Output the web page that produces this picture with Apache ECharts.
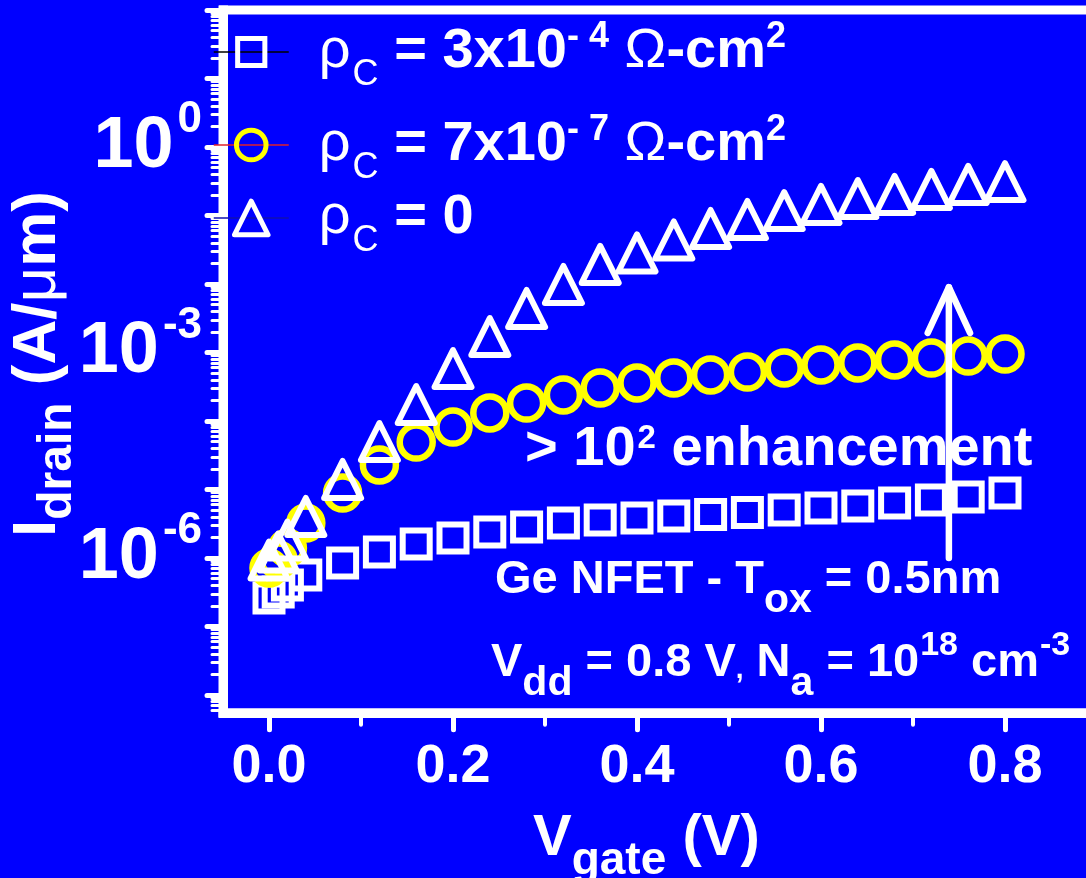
<!DOCTYPE html>
<html>
<head>
<meta charset="utf-8">
<title>Ge NFET drain current vs gate voltage</title>
<script src="https://cdn.jsdelivr.net/npm/echarts@6.0.0/dist/echarts.min.js"></script>
<style>
  html, body { margin: 0; padding: 0; background: #0000ff; }
  #chart { width: 1086px; height: 878px; }
</style>
</head>
<body>
<div id="chart"></div>
<script>
// Gate voltage sweep (V)
const vgate = [0, 0.01, 0.02, 0.04, 0.08, 0.12, 0.16, 0.20, 0.24, 0.28, 0.32, 0.36, 0.40,
               0.44, 0.48, 0.52, 0.56, 0.60, 0.64, 0.68, 0.72, 0.76, 0.80];

// Drain current (A/um), contact resistivity 3e-4 ohm-cm2
const idrainRho3e4 = [2.61e-7, 3.19e-7, 4.04e-7, 5.65e-7, 8.45e-7, 1.22e-6, 1.60e-6, 1.96e-6,
                      2.40e-6, 2.84e-6, 3.24e-6, 3.59e-6, 3.84e-6, 4.10e-6, 4.32e-6, 4.62e-6,
                      5.02e-6, 5.37e-6, 5.74e-6, 6.35e-6, 7.03e-6, 7.78e-6, 8.89e-6];
// Drain current (A/um), contact resistivity 7e-7 ohm-cm2
const idrainRho7e7 = [7.14e-7, 9.35e-7, 1.40e-6, 3.24e-6, 8.89e-6, 2.28e-5, 4.93e-5, 8.17e-5,
                      1.31e-4, 1.83e-4, 2.40e-4, 3.03e-4, 3.59e-4, 4.25e-4, 4.70e-4, 5.19e-4,
                      5.94e-4, 6.57e-4, 7.03e-4, 7.78e-4, 8.31e-4, 8.89e-4, 9.50e-4];
// Drain current (A/um), ideal contact
const idrainRho0 = [9.35e-7, 1.22e-6, 1.83e-6, 4.04e-6, 1.40e-5, 5.02e-5, 1.74e-4, 5.84e-4,
                    1.71e-3, 4.39e-3, 9.84e-3, 0.0193, 0.0284, 0.0439, 0.0646, 0.0875,
                    0.118, 0.145, 0.177, 0.203, 0.240, 0.284, 0.313];

// Axis ranges and tick positions
const xRange = [-0.05, 0.9];
const yRange = [5.5e-9, 100];
const xMajorTicks = [0, 0.2, 0.4, 0.6, 0.8];
const xMinorTicks = [0.1, 0.3, 0.5, 0.7];
const yDecadeTicks = [1e-8, 1e-7, 1e-6, 1e-5, 1e-4, 1e-3, 1e-2, 1e-1, 1, 10, 100];
const yLabelTicks = [1e-6, 1e-3, 1];
const yMinorTicks = [];
yDecadeTicks.concat([1e-9]).forEach(function (d) {
  for (let k = 2; k <= 9; k++) {
    const v = k * d;
    if (v > yRange[0] && v < yRange[1]) yMinorTicks.push(v);
  }
});

// Enhancement arrow (data coordinates)
const arrowX = 0.739;
const arrowTail = 1.0e-6;
const arrowTip = 9.0e-3;
const arrowHeadBase = 1.93e-3;
const arrowHeadHalf = 0.023;

const FONT = "'Liberation Sans', Arial, Helvetica, sans-serif";
const WHITE = '#ffffff';

function points(ys) { return vgate.map(function (x, i) { return [x, ys[i]]; }); }

const chart = echarts.init(document.getElementById('chart'), null, { renderer: 'canvas' });

function legendFor(name, top, itemHeight, lineColor, label) {
  return {
    data: [{ name: name, lineStyle: { color: lineColor, width: 1.5, opacity: 1, type: 'solid' } }],
    left: 213, top: top, padding: 0,
    itemWidth: 75, itemHeight: itemHeight,
    selectedMode: false,
    itemStyle: { borderWidth: 5 },
    formatter: function () { return label; },
    textStyle: {
      color: WHITE, fontFamily: FONT, fontSize: 56, fontWeight: 'bold',
      rich: {
        r: { fontSize: 56, fontWeight: 'normal', fontFamily: FONT, color: WHITE, padding: [0, 0, 0, 25] },
        c: { fontSize: 36, fontWeight: 'normal', fontFamily: FONT, color: WHITE, padding: [46, 0, 0, 2] },
        b: { fontSize: 56, fontWeight: 'bold', fontFamily: FONT, color: WHITE },
        p: { fontSize: 36, fontWeight: 'bold', fontFamily: FONT, color: WHITE, padding: [0, 0, 30, 0] },
        o: { fontSize: 56, fontWeight: 'normal', fontFamily: FONT, color: WHITE }
      }
    }
  };
}

function richText(id, x, y, text, rich) {
  return {
    id: id, type: 'text', z: 10, silent: true, x: x, y: y,
    style: {
      text: text, fill: WHITE, fontFamily: FONT, fontWeight: 'bold', fontSize: 50,
      align: 'left', verticalAlign: 'middle', rich: rich
    }
  };
}

function tok(size, weight, pad) {
  const s = { fontSize: size, fontWeight: weight, fontFamily: FONT, fill: WHITE };
  if (pad) s.padding = pad;
  return s;
}

const option = {
  backgroundColor: '#0000ff',
  animation: false,
  grid: {
    left: 223, top: 10, width: 874, height: 702.8,
    show: true, borderColor: WHITE, borderWidth: 9, backgroundColor: 'transparent',
    containLabel: false, outerBoundsMode: 'none'
  },
  xAxis: [
    {
      type: 'value', min: xRange[0], max: xRange[1], position: 'bottom',
      axisLine: { show: true, onZero: false, lineStyle: { color: WHITE, width: 9, cap: 'square' } },
      axisTick: { show: true, customValues: xMajorTicks, length: 17, lineStyle: { color: WHITE, width: 5, cap: 'round' } },
      axisLabel: {
        show: true, customValues: xMajorTicks, margin: 27,
        color: WHITE, fontFamily: FONT, fontSize: 54, fontWeight: 'bold',
        formatter: function (v) { return v.toFixed(1); }
      },
      splitLine: { show: false }
    },
    {
      type: 'value', min: xRange[0], max: xRange[1], position: 'bottom',
      axisLine: { show: false, onZero: false },
      axisTick: { show: true, customValues: xMinorTicks, length: 12, lineStyle: { color: WHITE, width: 4, cap: 'round' } },
      axisLabel: { show: false },
      splitLine: { show: false }
    }
  ],
  yAxis: [
    {
      type: 'log', logBase: 10, min: yRange[0], max: yRange[1], position: 'left',
      axisLine: { show: true, onZero: false, lineStyle: { color: WHITE, width: 9, cap: 'square' } },
      axisTick: { show: true, customValues: yDecadeTicks, length: 16, lineStyle: { color: WHITE, width: 5, cap: 'round' } },
      axisLabel: {
        show: true, customValues: yLabelTicks, margin: 21,
        color: WHITE, fontFamily: FONT, fontSize: 72, fontWeight: 'bold',
        formatter: function (v) {
          const e = Math.round(Math.log10(v));
          return '{b|10}{s|' + e + '}';
        },
        rich: {
          b: { fontSize: 72, fontWeight: 'bold', fontFamily: FONT, color: WHITE },
          s: { fontSize: 44, fontWeight: 'bold', fontFamily: FONT, color: WHITE, padding: [0, 0, 54, 4] }
        }
      },
      splitLine: { show: false }
    },
    {
      type: 'log', logBase: 10, min: yRange[0], max: yRange[1], position: 'left',
      axisLine: { show: false, onZero: false },
      axisTick: { show: true, customValues: yMinorTicks, length: 11, lineStyle: { color: WHITE, width: 3, cap: 'round' } },
      axisLabel: { show: false },
      splitLine: { show: false }
    }
  ],
  legend: [
    legendFor('rho3e4', 19, 34, '#000000',
      '{r|\u03c1}{c|C}{b| = 3x10}{p|- 4}{b| }{o|\u03a9}{b|-cm}{p|2}'),
    legendFor('rho7e7', 112, 37, '#e0202a',
      '{r|\u03c1}{c|C}{b| = 7x10}{p|- 7}{b| }{o|\u03a9}{b|-cm}{p|2}'),
    legendFor('rho0', 190, 42, '#1010b0',
      '{r|\u03c1}{c|C}{b| = 0}')
  ],
  series: [
    {
      name: 'rho3e4', type: 'line', data: points(idrainRho3e4),
      xAxisIndex: 0, yAxisIndex: 0, silent: true, z: 2,
      symbol: 'rect', symbolSize: 27, showAllSymbol: true,
      lineStyle: { width: 0, opacity: 0 },
      itemStyle: { color: 'rgba(0,0,0,0)', borderColor: WHITE, borderWidth: 6 },
      emphasis: { disabled: true }
    },
    {
      name: 'rho7e7', type: 'line', data: points(idrainRho7e7),
      xAxisIndex: 0, yAxisIndex: 0, silent: true, z: 3,
      symbol: 'circle', symbolSize: 33, showAllSymbol: true,
      lineStyle: { width: 0, opacity: 0 },
      itemStyle: { color: 'rgba(0,0,0,0)', borderColor: '#ffff00', borderWidth: 6.5 },
      emphasis: { disabled: true }
    },
    {
      name: 'rho0', type: 'line', data: points(idrainRho0),
      xAxisIndex: 0, yAxisIndex: 0, silent: true, z: 4,
      symbol: 'triangle', symbolSize: 37, showAllSymbol: true,
      lineStyle: { width: 0, opacity: 0 },
      itemStyle: { color: 'rgba(0,0,0,0)', borderColor: WHITE, borderWidth: 6, borderJoin: 'round' },
      emphasis: { disabled: true }
    }
  ],
  graphic: [
    // annotations
    richText('enhance', 525, 450, '{g|> 10}{p|2}{g| enhancement}', {
      g: tok(56, 'bold'), p: tok(33, 'bold', [0, 0, 22, 2])
    }),
    richText('device', 495, 580, '{g|Ge NFET - T}{s|ox}{g| = 0.5nm}', {
      g: tok(47, 'bold'), s: tok(41, 'bold', [42, 0, 0, 0])
    }),
    richText('bias', 491, 663, '{g|V}{s|dd}{g| = 0.8 V}{c|,}{g| N}{s|a}{g| = 10}{p|18}{g| cm}{p|-3}', {
      g: tok(47, 'bold'), s: tok(41, 'bold', [42, 0, 0, 0]),
      p: tok(34, 'bold', [0, 0, 34, 1]), c: tok(28, 'bold', [14, 0, 0, 0])
    }),
    // axis titles
    richText('xtitle', 533, 839, '{g|V}{s|gate}{g| (V)}', {
      g: tok(58, 'bold'), s: tok(46, 'bold', [44, 0, 0, 0])
    }),
    {
      id: 'ytitle', type: 'text', z: 10, silent: true, x: 38, y: 364, rotation: Math.PI / 2,
      style: {
        text: '{g|I}{s|drain}{g| (A/}{m|\u03bc}{g|m)}', fill: WHITE, fontFamily: FONT,
        fontWeight: 'bold', fontSize: 62, align: 'center', verticalAlign: 'middle',
        rich: { g: tok(62, 'bold'), s: tok(48, 'bold', [40, 0, 0, 0]), m: tok(62, 'normal') }
      }
    }
  ]
};

chart.setOption(option);

// Enhancement arrow, placed through the grid's own coordinate system
const px = function (x, y) { return chart.convertToPixel({ xAxisIndex: 0, yAxisIndex: 0 }, [x, y]); };
const tail = px(arrowX, arrowTail);
const tip = px(arrowX, arrowTip);
const headL = px(arrowX - arrowHeadHalf, arrowHeadBase);
const headR = px(arrowX + arrowHeadHalf, arrowHeadBase);
chart.setOption({
  graphic: [
    {
      id: 'arrowShaft', type: 'polyline', z: 9, silent: true,
      shape: { points: [tail, tip] },
      style: { stroke: WHITE, lineWidth: 6.5, lineCap: 'round', fill: null }
    },
    {
      id: 'arrowHead', type: 'polyline', z: 9, silent: true,
      shape: { points: [headL, tip, headR] },
      style: { stroke: WHITE, lineWidth: 6.5, lineCap: 'round', lineJoin: 'round', fill: null }
    }
  ]
});
</script>
</body>
</html>
